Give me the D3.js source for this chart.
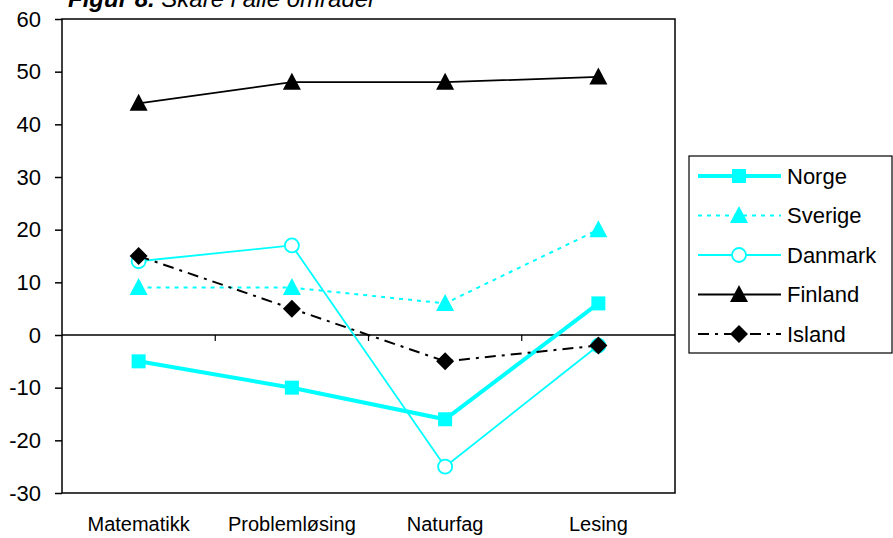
<!DOCTYPE html>
<html>
<head>
<meta charset="utf-8">
<script src="https://cdn.jsdelivr.net/npm/d3@7"></script>
<style>
  body { margin: 0; background: #fff; }
  text { font-family: "Liberation Sans", Arial, sans-serif; }
</style>
</head>
<body>
<svg id="chart" width="893" height="538"></svg>
<script>
// data
const categories = ["Matematikk", "Problemløsing", "Naturfag", "Lesing"];
const norge   = [-5, -10, -16, 6];
const sverige = [9, 9, 6, 20];
const danmark = [14, 17, -25, -2];
const finland = [44, 48, 48, 49];
const island  = [15, 5, -5, -2];
const yTicks  = [-30, -20, -10, 0, 10, 20, 30, 40, 50, 60];

const series = [
    { name: "Norge",   values: norge,   color: "#00ffff", width: 4,   dash: null,        symbol: "square" },
    { name: "Sverige", values: sverige, color: "#00ffff", width: 2,   dash: "4,5",       symbol: "triangle" },
    { name: "Danmark", values: danmark, color: "#00ffff", width: 1.8, dash: null,        symbol: "circle" },
    { name: "Finland", values: finland, color: "#000000", width: 1.8, dash: null,        symbol: "triangle" },
    { name: "Island",  values: island,  color: "#000000", width: 2,   dash: "11,6,3,6",  symbol: "diamond" }
];

const svg = d3.select("#chart");
const plot = { left: 62, right: 675, top: 19, bottom: 493 };

const x = d3.scaleBand().domain(categories).range([plot.left, plot.right]);
const y = d3.scaleLinear().domain([-30, 60]).range([plot.bottom, plot.top]);
const cx = d => x(d) + x.bandwidth() / 2;

// plot frame
svg.append("rect")
    .attr("x", plot.left).attr("y", plot.top)
    .attr("width", plot.right - plot.left).attr("height", plot.bottom - plot.top)
    .attr("fill", "none").attr("stroke", "#000").attr("stroke-width", 1.5);

// y axis (plain hyphen for negatives, like the original)
const yAxis = svg.append("g")
    .attr("transform", `translate(${plot.left},0)`)
    .call(d3.axisLeft(y).tickValues(yTicks).tickFormat(d => String(d))
        .tickSize(7).tickPadding(14).tickSizeOuter(0));
yAxis.select(".domain").remove();
yAxis.selectAll("line").attr("stroke-width", 1.5);
yAxis.selectAll("text").attr("font-size", 22).attr("fill", "#000");

// category axis crosses at zero
svg.append("line")
    .attr("x1", plot.left).attr("x2", plot.right)
    .attr("y1", y(0)).attr("y2", y(0))
    .attr("stroke", "#000").attr("stroke-width", 1.5);
svg.append("g").selectAll("line")
    .data(categories.slice(1))
    .join("line")
    .attr("x1", d => x(d)).attr("x2", d => x(d))
    .attr("y1", y(0)).attr("y2", y(0) + 6)
    .attr("stroke", "#000").attr("stroke-width", 1.2);

svg.append("g").selectAll("text")
    .data(categories)
    .join("text")
    .attr("x", cx).attr("y", 531)
    .attr("text-anchor", "middle")
    .attr("font-size", 20)
    .text(d => d);

// title, sitting at the top edge like the original
const title = svg.append("text")
    .attr("x", 68).attr("y", 7)
    .attr("font-size", 24).attr("font-style", "italic");
title.append("tspan").attr("font-weight", "bold").text("Figur 8.");
title.append("tspan").text(" Skåre i alle områder");

function drawSymbol(g, s, px, py) {
    if (s.symbol === "square") {
        g.append("rect")
            .attr("x", px - 7).attr("y", py - 7)
            .attr("width", 14).attr("height", 14)
            .attr("fill", s.color);
    } else if (s.symbol === "triangle") {
        g.append("path")
            .attr("d", `M${px},${py - 9.5}L${px + 9},${py + 7.5}L${px - 9},${py + 7.5}Z`)
            .attr("fill", s.color);
    } else if (s.symbol === "circle") {
        g.append("circle")
            .attr("cx", px).attr("cy", py).attr("r", 7)
            .attr("fill", "#fff").attr("stroke", s.color).attr("stroke-width", 1.8);
    } else if (s.symbol === "diamond") {
        g.append("path")
            .attr("d", `M${px},${py - 9}L${px + 9},${py}L${px},${py + 9}L${px - 9},${py}Z`)
            .attr("fill", s.color);
    }
}

const line = d3.line()
    .x((d, i) => cx(categories[i]))
    .y(d => y(d));

series.forEach(s => {
    const g = svg.append("g").attr("class", "series");
    g.append("path")
        .datum(s.values)
        .attr("d", line)
        .attr("fill", "none")
        .attr("stroke", s.color)
        .attr("stroke-width", s.width)
        .attr("stroke-dasharray", s.dash);
    s.values.forEach((v, i) => drawSymbol(g, s, cx(categories[i]), y(v)));
});

// legend
const legend = svg.append("g");
legend.append("rect")
    .attr("x", 689).attr("y", 156)
    .attr("width", 203).attr("height", 197)
    .attr("fill", "#fff").attr("stroke", "#000").attr("stroke-width", 1.2);

series.forEach((s, i) => {
    const ly = 176 + i * 39.5;
    const g = legend.append("g");
    g.append("line")
        .attr("x1", 698).attr("x2", 781)
        .attr("y1", ly).attr("y2", ly)
        .attr("stroke", s.color)
        .attr("stroke-width", s.width)
        .attr("stroke-dasharray", s.dash);
    drawSymbol(g, s, 739, ly);
    g.append("text")
        .attr("x", 787).attr("y", ly + 7.5)
        .attr("font-size", 22)
        .text(s.name);
});
</script>
</body>
</html>
